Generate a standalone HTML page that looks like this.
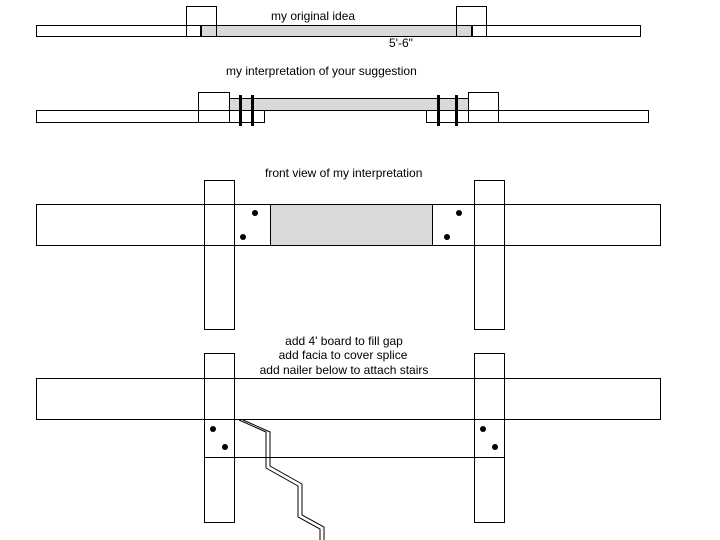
<!DOCTYPE html>
<html><head><style>body{margin:0;background:#fff}svg{display:block}text{font-family:"Liberation Sans",sans-serif;font-size:12px;fill:#000}</style></head><body>
<svg width="720" height="540" viewBox="0 0 720 540" xmlns="http://www.w3.org/2000/svg" fill="none" stroke="#000" stroke-width="1">
<!-- row 1 -->
<rect x="36.5" y="25.5" width="604" height="11" fill="#fff"/>
<rect x="201" y="25.5" width="271" height="11" fill="#d9d9d9"/>
<rect x="186.5" y="6.5" width="30" height="30"/>
<rect x="456.5" y="6.5" width="30" height="30"/>
<line x1="201" y1="25" x2="201" y2="37" stroke-width="2"/>
<line x1="472" y1="25" x2="472" y2="37" stroke-width="2"/>
<text x="271" y="20" stroke="none">my original idea</text>
<text x="389" y="47" stroke="none">5'-6"</text>
<!-- row 2 -->
<text x="226" y="75" stroke="none">my interpretation of your suggestion</text>
<rect x="229.5" y="98.5" width="239" height="12" fill="#d9d9d9"/>
<rect x="36.5" y="110.5" width="228" height="12"/>
<rect x="426.5" y="110.5" width="222" height="12"/>
<rect x="198.5" y="92.5" width="31" height="30" fill="none"/>
<rect x="468.5" y="92.5" width="30" height="30" fill="none"/>
<line x1="240.5" y1="95" x2="240.5" y2="126" stroke-width="3"/>
<line x1="252.5" y1="95" x2="252.5" y2="126" stroke-width="3"/>
<line x1="438.5" y1="95" x2="438.5" y2="126" stroke-width="3"/>
<line x1="456.5" y1="95" x2="456.5" y2="126" stroke-width="3"/>
<!-- row 3 -->
<text x="265" y="177" stroke="none">front view of my interpretation</text>
<rect x="36.5" y="204.5" width="624" height="41" fill="#fff"/>
<rect x="270.5" y="204.5" width="162" height="41" fill="#d9d9d9"/>
<rect x="204.5" y="180.5" width="30" height="149"/>
<rect x="474.5" y="180.5" width="30" height="149"/>
<g fill="#000" stroke="none"><circle cx="255" cy="213" r="3"/><circle cx="243" cy="237" r="3"/><circle cx="459" cy="213" r="3"/><circle cx="447" cy="237" r="3"/></g>
<!-- row 4 -->
<text x="344" y="345" stroke="none" text-anchor="middle">add 4' board to fill gap</text>
<text x="343" y="359" stroke="none" text-anchor="middle">add facia to cover splice</text>
<text x="344" y="374" stroke="none" text-anchor="middle">add nailer below to attach stairs</text>
<rect x="36.5" y="378.5" width="624" height="41"/>
<rect x="204.5" y="353.5" width="30" height="169"/>
<rect x="474.5" y="353.5" width="30" height="169"/>
<line x1="204" y1="457.5" x2="505" y2="457.5"/>
<g fill="#000" stroke="none"><circle cx="213" cy="429" r="3"/><circle cx="225" cy="447" r="3"/><circle cx="483" cy="429" r="3"/><circle cx="495" cy="447" r="3"/></g>
<polyline points="239,420 266,432 266,468 298,486 298,517 320,529 320,540"/>
<polyline points="243,420 270,432 270,466 302,484 302,515 324,527 324,540"/>
</svg>
</body></html>
